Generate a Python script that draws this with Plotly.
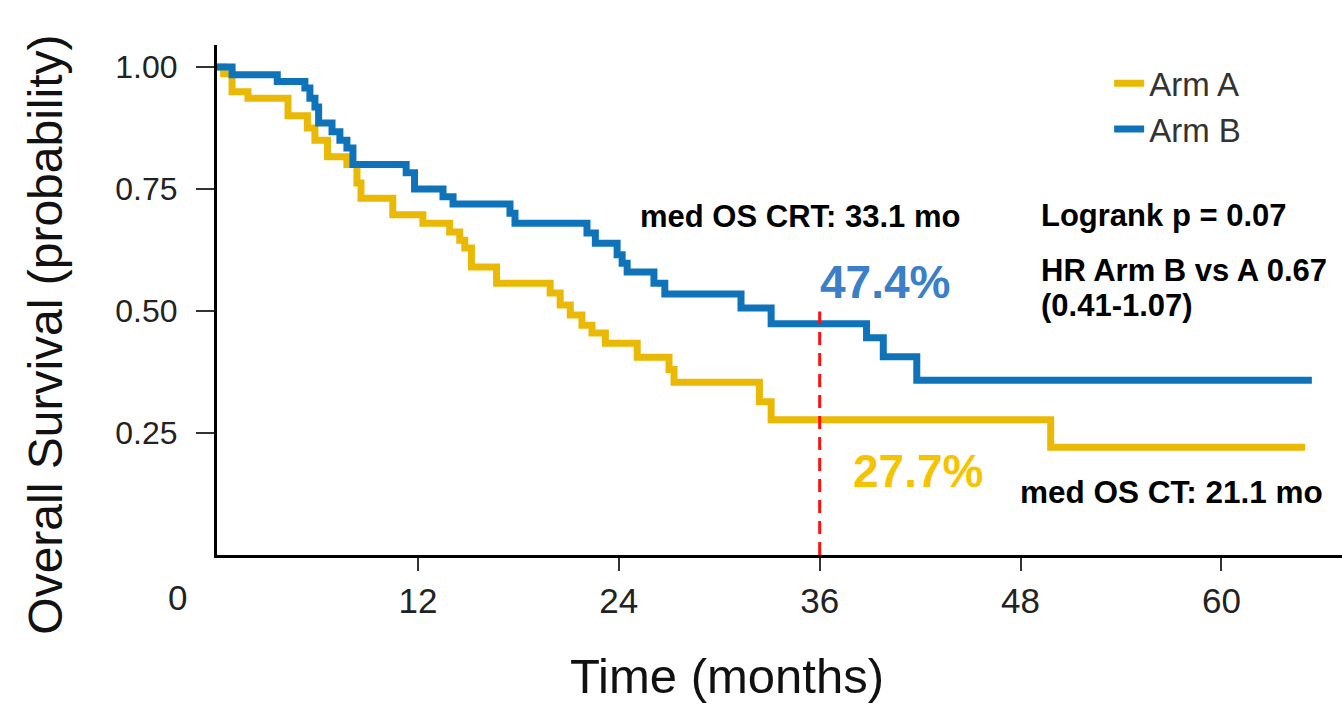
import plotly.graph_objects as go

# ---- data ----
arm_a_time = [0, 0.4, 0.9, 1.85, 4.24, 5.4, 5.85, 6.6, 7.76, 8.36, 8.6, 10.5, 12.3, 13.9,
              14.5, 14.8, 15.2, 16.7, 19.9, 20.5, 21.1, 21.8, 22.4, 23.2, 25.1, 27.0, 27.3,
              32.4, 33.1, 49.8, 65.0]
arm_a_surv = [1.0, 0.986, 0.949, 0.936, 0.90, 0.875, 0.85, 0.816, 0.80, 0.762, 0.731, 0.697,
              0.68, 0.662, 0.645, 0.629, 0.59, 0.557, 0.537, 0.512, 0.492, 0.471, 0.455, 0.434,
              0.405, 0.38, 0.354, 0.314, 0.277, 0.221, 0.221]

arm_b_time = [0, 0.9, 3.6, 5.25, 5.55, 5.85, 6.07, 6.87, 7.34, 7.76, 8.12, 11.3, 11.8, 13.5,
              14.1, 17.5, 17.8, 22.1, 22.6, 23.9, 24.2, 24.5, 26.1, 26.75, 31.3, 33.1, 38.8,
              39.8, 41.8, 65.4]
arm_b_surv = [1.0, 0.984, 0.970, 0.957, 0.936, 0.918, 0.885, 0.867, 0.850, 0.834, 0.80, 0.783,
              0.750, 0.734, 0.719, 0.70, 0.680, 0.66, 0.639, 0.615, 0.598, 0.58, 0.557, 0.535,
              0.506, 0.474, 0.445, 0.406, 0.358, 0.358]

series_names = ["Arm A", "Arm B"]
landmark_month = 36
landmark_b = 0.474
x_ticks = [12, 24, 36, 48, 60]
y_ticks = [0.25, 0.50, 0.75, 1.00]
y_tick_labels = ["0.25", "0.50", "0.75", "1.00"]

YELLOW = "#E9B905"
BLUE = "#0F73BA"

fig = go.Figure()
fig.add_trace(go.Scatter(x=arm_a_time, y=arm_a_surv, mode="lines", name=series_names[0],
                         line=dict(color=YELLOW, width=7, shape="hv")))
fig.add_trace(go.Scatter(x=arm_b_time, y=arm_b_surv, mode="lines", name=series_names[1],
                         line=dict(color=BLUE, width=7, shape="hv")))
# landmark dashed line at 36 months
fig.add_trace(go.Scatter(x=[landmark_month, landmark_month], y=[0, landmark_b + 0.025],
                         mode="lines", showlegend=False,
                         line=dict(color="#FF1010", width=3, dash="13px,8px")))

FONT = "Liberation Sans"
ann = [
    dict(x=34.8, y=0.693, text="<b>med OS CRT: 33.1 mo</b>", font=dict(size=31, color="black")),
    dict(x=39.9, y=0.560, text="<b>47.4%</b>", font=dict(size=46, color="#3A7FC8")),
    dict(x=41.9, y=0.172, text="<b>27.7%</b>", font=dict(size=46, color="#F5C400")),
    dict(x=57.0, y=0.129, text="<b>med OS CT: 21.1 mo</b>", font=dict(size=31.5, color="black")),
    dict(x=49.1, y=0.695, text="<b>Logrank p = 0.07</b>", font=dict(size=31, color="black"),
         xanchor="left"),
    dict(x=49.1, y=0.583, text="<b>HR Arm B vs A 0.67</b>", font=dict(size=31, color="black"),
         xanchor="left"),
    dict(x=49.1, y=0.512, text="<b>(0.41-1.07)</b>", font=dict(size=31, color="black"),
         xanchor="left"),
]
for a in ann:
    a.setdefault("xanchor", "center")
    a["font"]["family"] = FONT
    fig.add_annotation(xref="x", yref="y", showarrow=False, yanchor="middle", **a)

# origin label and axis titles (paper coordinates)
fig.add_annotation(xref="paper", yref="paper", x=-0.0347, y=-0.083, text="0", showarrow=False,
                   xanchor="center", yanchor="middle",
                   font=dict(family=FONT, size=35, color="#222"))
fig.add_annotation(xref="paper", yref="paper", x=0.453, y=-0.237, text="Time (months)",
                   showarrow=False, xanchor="center", yanchor="middle",
                   font=dict(family=FONT, size=49, color="#111"))
fig.add_annotation(xref="paper", yref="paper", x=-0.152, y=0.432, textangle=-90,
                   text="Overall Survival (probability)", showarrow=False,
                   xanchor="center", yanchor="middle",
                   font=dict(family=FONT, size=48, color="#111"))

fig.update_layout(
    width=1342, height=706,
    margin=dict(l=217, r=0, t=45, b=151),
    paper_bgcolor="white", plot_bgcolor="white",
    font=dict(family=FONT, color="#222"),
    legend=dict(x=0.793, y=0.98, xanchor="left", yanchor="top",
                font=dict(size=33, color="#333"), bgcolor="rgba(0,0,0,0)",
                tracegroupgap=0),
    showlegend=True,
)
fig.update_xaxes(range=[0, 67.2], tickvals=x_ticks, ticks="outside", ticklen=13, tickwidth=2,
                 tickcolor="#333", showline=True, linecolor="black", linewidth=3,
                 showgrid=False, zeroline=False, tickfont=dict(size=35, color="#222"),
                 ticklabelstandoff=0)
fig.update_yaxes(range=[0, 1.045], tickvals=y_ticks, ticktext=y_tick_labels, ticks="outside",
                 ticklen=18, tickwidth=2, tickcolor="#333", showline=True, linecolor="black",
                 linewidth=3, showgrid=False, zeroline=False,
                 tickfont=dict(size=32, color="#222"), ticklabelstandoff=12)

fig.write_html("out.html")
